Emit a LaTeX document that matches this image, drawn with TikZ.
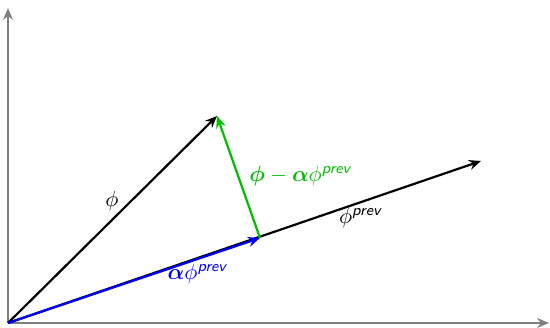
\documentclass[tikz,border=0pt]{standalone}
\usepackage{amsmath,bm}
\usetikzlibrary{arrows.meta}
\definecolor{axisgray}{RGB}{128,128,128}
\definecolor{vgreen}{RGB}{0,190,0}
\newcommand{\prv}{\textsf{\itshape prev}}
\newcommand{\labscale}[1]{\scalebox{2.2}{#1}}
\begin{document}
\begin{tikzpicture}[x=1pt,y=1pt,
  tip/.style={-{Stealth[length=12pt,width=10pt,inset=4pt]}},
  vec/.style={tip,line width=2.2pt},
  axis/.style={tip,line width=2.5pt,draw=axisgray},
  lab/.style={inner sep=1pt}]
\useasboundingbox (0,0) rectangle (550,328);
\coordinate (O) at (8,5);
\coordinate (Y) at (8,320);
\coordinate (X) at (549,5);
\coordinate (A) at (217,212);
\coordinate (B) at (481,167);
\coordinate (C) at (260,90);
\draw[axis] (O) -- (Y);
\draw[axis] (O) -- (X);
\draw[vec,black] (O) -- (B);
\draw[vec,black] (O) -- (A);
\draw[vec,blue] (O) -- (C);
\draw[vec,vgreen] (C) -- (A);
\node[lab] (lphi) at (112,127) {\labscale{$\phi$}};
\node[lab] (lprev) at (361,110) {\labscale{$\phi^{\text{\prv}}$}};
\node[lab,text=blue] (lalpha) at (198,54) {\labscale{$\bm{\alpha}\phi^{\text{\prv}}$}};
\node[lab,text=vgreen] (ldiff) at (301,152) {\labscale{$\bm{\phi}-\bm{\alpha}\phi^{\text{\prv}}$}};
\end{tikzpicture}
\end{document}
